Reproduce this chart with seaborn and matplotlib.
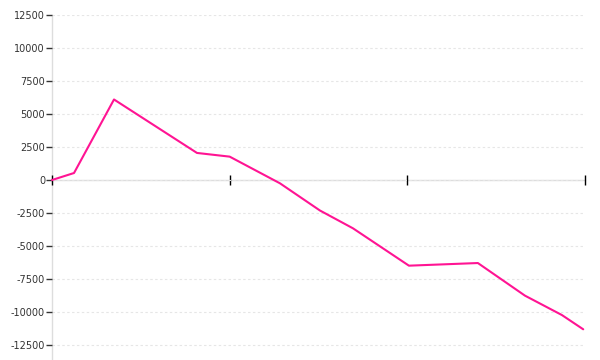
import matplotlib
matplotlib.use("Agg")
import matplotlib.pyplot as plt
import seaborn as sns
import pandas as pd

# Data
x_vals = [0.0, 0.124, 0.349, 0.816, 1.0, 1.283, 1.508, 1.694, 2.009, 2.397, 2.662, 2.870, 2.99]
y_vals = [0, 530, 6100, 2050, 1770, -250, -2310, -3660, -6490, -6290, -8760, -10230, -11310]
y_ticks = [-12500, -10000, -7500, -5000, -2500, 0, 2500, 5000, 7500, 10000, 12500]
x_ticks = [0, 1, 2, 3]

df = pd.DataFrame({"x": x_vals, "y": y_vals})

sns.set_theme(style="white")
plt.rcParams['font.family'] = ['DejaVu Sans']

fig = plt.figure(figsize=(6, 3.6), dpi=100)
ax = fig.add_axes([52/600, 0.0, (585-52)/600, (360-15)/360])

sns.lineplot(data=df, x="x", y="y", ax=ax, color="#ff1493", linewidth=1.5, clip_on=False, zorder=3)

ax.set_xlim(0, 3)
ax.set_ylim(-13636, 12500)
ax.set_yticks(y_ticks)
ax.set_yticklabels([str(v) for v in y_ticks])
ax.set_xticks(x_ticks)
ax.set_xticklabels([])
ax.set_xlabel("")
ax.set_ylabel("")

for s in ["top", "right"]:
    ax.spines[s].set_visible(False)
ax.spines["left"].set_color("#dddddd")
ax.spines["left"].set_linewidth(1)
ax.spines["bottom"].set_position(("data", 0))
ax.spines["bottom"].set_color("#dddddd")
ax.spines["bottom"].set_linewidth(1)
ax.spines["left"].set_zorder(0.3)
ax.spines["bottom"].set_zorder(0.3)

ax.tick_params(axis="y", which="both", left=True, length=4, width=1, color="#333333",
               labelsize=7, labelcolor="#333333", pad=1)
ax.tick_params(axis="x", which="both", bottom=True, direction="inout", length=7, width=1,
               color="#000000")

ax.yaxis.grid(True, color="#e6e6e6", linestyle=(0, (2.2, 2.2)), linewidth=0.8)
ax.xaxis.grid(False)
ax.set_axisbelow(True)

fig.savefig("out.png", dpi=100)
